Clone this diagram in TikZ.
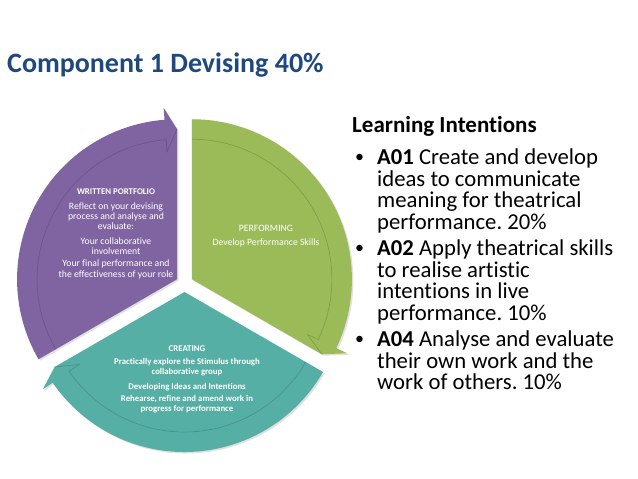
\documentclass[tikz,border=0pt]{standalone}
\usepackage{fontspec}
\setmainfont{Carlito}[Ligatures=NoCommon]
\frenchspacing
\definecolor{purp}{HTML}{8064A2}
\definecolor{grn}{HTML}{9BBB59}
\definecolor{teal2}{HTML}{56AFA4}
\definecolor{titleblue}{HTML}{1F497D}
\tikzset{
  segtext/.style={text=white, font=\fontsize{9.7}{10}\selectfont, anchor=base, inner sep=0pt},
  segbold/.style={segtext, font=\fontsize{8.8}{10}\selectfont\bfseries},
  listtext/.style={text=black, font=\fontsize{22.7}{22}\selectfont, anchor=base west, inner sep=0pt},
  bulletdot/.style={text=black, font=\fontsize{18}{18}\selectfont, anchor=base west, inner sep=0pt},
  bandline/.style={line width=0.7pt, opacity=0.4},
  shadowfill/.style={fill=black, opacity=0.12}
}
\begin{document}
\begin{tikzpicture}[x=1pt,y=1pt]
\useasboundingbox (0,0) rectangle (638,479);
\fill[white] (0,0) rectangle (638,479);

% centres of the three exploded segments
\coordinate (P) at (177.1,199.75);
\coordinate (G) at (191.9,199.75);
\coordinate (T) at (184.5,187);

% shadows
\fill[shadowfill, shift={(P)}, xshift=1.5, yshift=-1.5] (0,0) -- (210:160) arc[start angle=210,end angle=94.5,radius=160] -- (94.5:172) -- (90:150) -- cycle;
\fill[shadowfill, shift={(G)}, xshift=1.5, yshift=-1.5] (0,0) -- (90:160) arc[start angle=90,end angle=-25.5,radius=160] -- (-25.5:172) -- (-30:150) -- cycle;
\fill[shadowfill, shift={(T)}, xshift=1.5, yshift=-1.5] (0,0) -- (330:160) arc[start angle=330,end angle=214.5,radius=160] -- (214.5:172) -- (210:150) -- cycle;

% purple segment
\fill[purp, shift={(P)}] (0,0) -- (210:160) arc[start angle=210,end angle=94.5,radius=160] -- (94.5:172) -- (90:150) -- cycle;
\draw[bandline, purp!60!black, shift={(P)}] (210:140) arc[start angle=210,end angle=94.5,radius=140] -- (94.5:128) -- (90:150);

% green segment
\fill[grn, shift={(G)}] (0,0) -- (90:160) arc[start angle=90,end angle=-25.5,radius=160] -- (-25.5:172) -- (-30:150) -- cycle;
\draw[bandline, grn!60!black, shift={(G)}] (90:140) arc[start angle=90,end angle=-25.5,radius=140] -- (-25.5:128) -- (-30:150);

% teal segment
\fill[teal2, shift={(T)}] (0,0) -- (330:160) arc[start angle=330,end angle=214.5,radius=160] -- (214.5:172) -- (210:150) -- cycle;
\draw[bandline, teal2!60!black, shift={(T)}] (330:140) arc[start angle=330,end angle=214.5,radius=140] -- (214.5:128) -- (210:150);

% title
\node[anchor=base west, inner sep=0pt, text=titleblue, font=\fontsize{28}{30}\selectfont\bfseries] (title) at (7,406) {Component 1 Devising 40\%};

% purple text
\node[segbold] (w1) at (116,284) {WRITTEN PORTFOLIO};
\node[segtext] (w2) at (116,269) {Reflect on your devising};
\node[segtext] (w3) at (116,259) {process and analyse and};
\node[segtext] (w4) at (116,249) {evaluate:};
\node[segtext] (w5) at (116,234) {Your collaborative};
\node[segtext] (w6) at (116,224) {involvement};
\node[segtext] (w7) at (116,212) {Your final performance and};
\node[segtext] (w8) at (116,201) {the effectiveness of your role};

% green text
\node[segtext] (p1) at (266,247) {PERFORMING};
\node[segtext] (p2) at (266,233) {Develop Performance Skills};

% teal text
\node[segbold] (c1) at (187,127) {CREATING};
\node[segbold] (c2) at (187,114) {Practically explore the Stimulus through};
\node[segbold] (c3) at (187,104) {collaborative group};
\node[segbold] (c4) at (187,89) {Developing Ideas and Intentions};
\node[segbold] (c5) at (187,77) {Rehearse, refine and amend work in};
\node[segbold] (c6) at (187,67) {progress for performance};

% right-hand list
\node[listtext, font=\fontsize{23}{22}\selectfont\bfseries] (lh) at (352,346) {Learning Intentions};
\node[bulletdot] (b1) at (355,316) {•};
\node[listtext] (l11) at (377,314) {\textbf{A01} Create and develop};
\node[listtext] (l12) at (377,292.5) {ideas to communicate};
\node[listtext] (l13) at (377,271) {meaning for theatrical};
\node[listtext] (l14) at (377,249.5) {performance. 20\%};
\node[bulletdot] (b2) at (355,225) {•};
\node[listtext] (l21) at (377,223) {\textbf{A02} Apply theatrical skills};
\node[listtext] (l22) at (377,201.5) {to realise artistic};
\node[listtext] (l23) at (377,180) {intentions in live};
\node[listtext] (l24) at (377,158.5) {performance. 10\%};
\node[bulletdot] (b3) at (355,134) {•};
\node[listtext] (l31) at (377,132) {\textbf{A04} Analyse and evaluate};
\node[listtext] (l32) at (377,110.5) {their own work and the};
\node[listtext] (l33) at (377,89) {work of others. 10\%};
\end{tikzpicture}
\end{document}
